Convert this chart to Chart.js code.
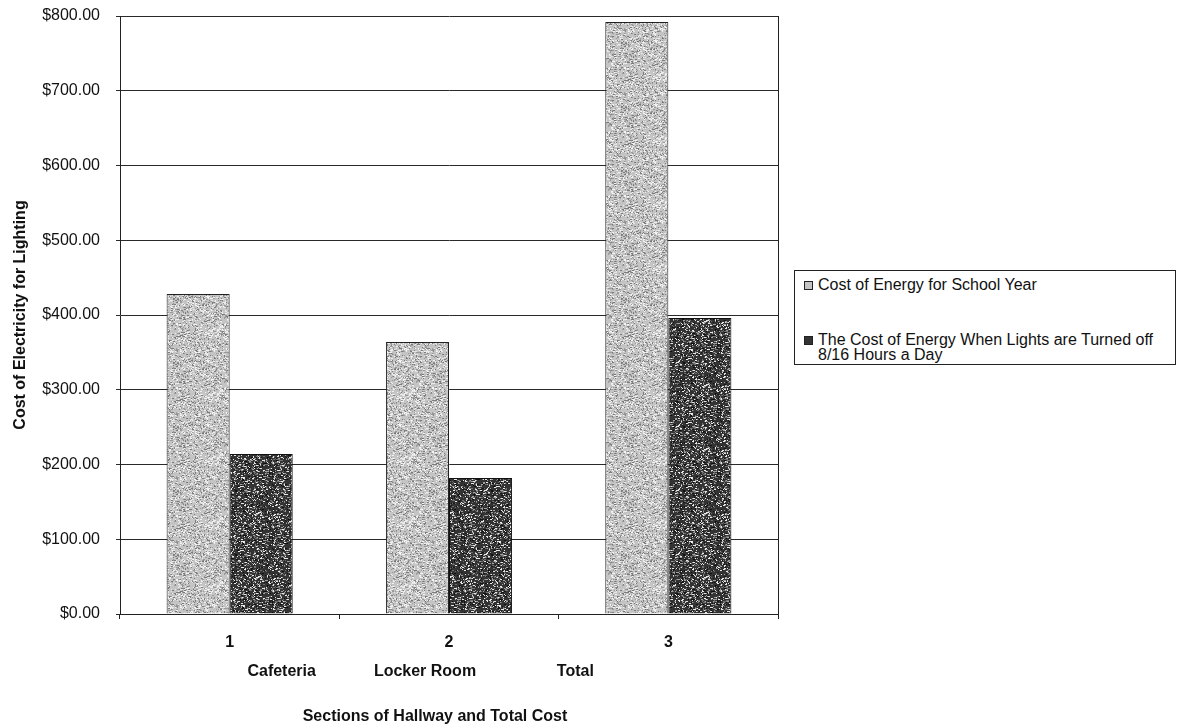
<!DOCTYPE html>
<html>
<head>
<meta charset="utf-8">
<script src="https://cdn.jsdelivr.net/npm/chart.js@4.4.1/dist/chart.umd.min.js"></script>
<style>
  body { margin: 0; background: #fff; }
  #wrap { position: relative; width: 1201px; height: 727px; }
  #legend {
    position: absolute; left: 794px; top: 270px; width: 382px; height: 95px;
    box-sizing: border-box; border: 1px solid #222; background: #fff;
    font: 16px "Liberation Sans", Arial, sans-serif; color: #111;
  }
  .item { position: absolute; left: 8px; right: 0px; line-height: 15px; padding-left: 15px; }
  .sw { position: absolute; left: 1px; top: 4px; width: 7px; height: 7px; border: 1px solid #222; }
</style>
</head>
<body>
<div id="wrap">
  <canvas id="costChart" width="1201" height="727"></canvas>
  <div id="legend"></div>
</div>
<script>
// values
var categories = ["1", "2", "3"];
var sectionNames = ["Cafeteria", "Locker Room", "Total"];
var seriesNames = ["Cost of Energy for School Year",
                   "The Cost of Energy When Lights are Turned off 8/16 Hours a Day"];
var schoolYearCost = [428, 364, 792];
var lightsOffCost = [214, 182, 396];
var yTicks = [0, 100, 200, 300, 400, 500, 600, 700, 800];

var FONT = '"Liberation Sans", Arial, sans-serif';

// speckled fill like the printed/scanned bars (fixed seed so it is the same every time)
function speckle(base, spots, count, seed){
    var c = document.createElement("canvas");
    c.width = 64; c.height = 64;
    var g = c.getContext("2d");
    g.fillStyle = base;
    g.fillRect(0, 0, 64, 64);
    var s = seed;
    function next(){
        s = (s * 1103515245 + 12345) % 2147483648;
        return Math.floor(s / 65536) % 64;
    }
    for(var i = 0; i < count; i++){
        var x = next();
        var y = next();
        g.fillStyle = spots[i % spots.length];
        g.fillRect(x, y, (i % 3 == 0) ? 2 : 1, 1);
    }
    return g.createPattern(c, "repeat");
}
var lightFill = speckle("#c4c4c4", ["#7c7c7c", "#f2f2f2", "#9a9a9a", "#e6e6e6"], 1600, 7);
var darkFill = speckle("#333333", ["#a0a0a0", "#e8e8e8", "#111111", "#707070"], 1500, 13);

// category names and axis title sit under the tick numbers, not centred on them
var nameShift = [52, -24, -93];
var extraText = {
    id: "extraText",
    afterDraw: function(chart){
        var ctx = chart.ctx;
        var x = chart.scales.x;
        var a = chart.chartArea;
        ctx.save();
        // right edge of the plot box
        ctx.strokeStyle = "#222";
        ctx.lineWidth = 1;
        ctx.beginPath();
        ctx.moveTo(a.right + 0.5, a.top);
        ctx.lineTo(a.right + 0.5, a.bottom);
        ctx.stroke();

        ctx.fillStyle = "#111";
        ctx.textAlign = "center";
        ctx.textBaseline = "middle";
        ctx.font = "bold 16px " + FONT;
        for(var i = 0; i < sectionNames.length; i++){
            ctx.fillText(sectionNames[i], x.getPixelForValue(i) + nameShift[i], a.bottom + 58);
        }
        ctx.fillText("Sections of Hallway and Total Cost", (a.left + a.right) / 2 - 14, a.bottom + 103);
        ctx.restore();
    }
};

var ctx = document.getElementById("costChart");
var chart = new Chart(ctx, {
    type: "bar",
    data: {
        labels: categories,
        datasets: [{
            label: seriesNames[0],
            data: schoolYearCost,
            backgroundColor: lightFill,
            borderColor: "#222",
            borderWidth: 1
        }, {
            label: seriesNames[1],
            data: lightsOffCost,
            backgroundColor: darkFill,
            borderColor: "#111",
            borderWidth: 1
        }]
    },
    options: {
        responsive: false,
        animation: false,
        layout: { padding: { left: 0, right: 423, top: 0, bottom: 0 } },
        datasets: { bar: { categoryPercentage: 0.575, barPercentage: 1.0 } },
        plugins: {
            legend: { display: false },
            tooltip: { enabled: false }
        },
        scales: {
            x: {
                grid: { offset: true, drawOnChartArea: false, drawTicks: true, tickLength: 5, color: "#222" },
                border: { color: "#222", width: 1 },
                ticks: { color: "#111", padding: 14, font: { family: FONT, size: 16, weight: "bold" } },
                afterFit: function(s){ s.height = 113; }
            },
            y: {
                min: 0, max: 800,
                afterBuildTicks: function(s){ s.ticks = yTicks.map(function(v){ return { value: v }; }); },
                grid: { color: "#2a2a2a", lineWidth: 1, tickLength: 4 },
                border: { color: "#222", width: 1 },
                ticks: {
                    color: "#111", padding: 16,
                    font: { family: FONT, size: 16 },
                    callback: function(v){ return "$" + Number(v).toFixed(2); }
                },
                title: {
                    display: true,
                    text: "Cost of Electricity for Lighting",
                    color: "#111",
                    padding: { top: 11, bottom: 0 },
                    font: { family: FONT, size: 16, weight: "bold" }
                },
                afterFit: function(s){
                    s.width = 120;
                    s.paddingTop = 16;
                    s.paddingBottom = 0;
                }
            }
        }
    },
    plugins: [extraText]
});

// legend box on the right, the long label wraps like the original
var legend = document.getElementById("legend");
var tops = [6, 61];
var fills = ["#c4c4c4", "#333333"];
chart.data.datasets.forEach(function(ds, i){
    var item = document.createElement("div");
    item.className = "item";
    item.style.top = tops[i] + "px";
    var sw = document.createElement("span");
    sw.className = "sw";
    sw.style.background = fills[i];
    item.appendChild(sw);
    item.appendChild(document.createTextNode(ds.label));
    legend.appendChild(item);
});
</script>
</body>
</html>
